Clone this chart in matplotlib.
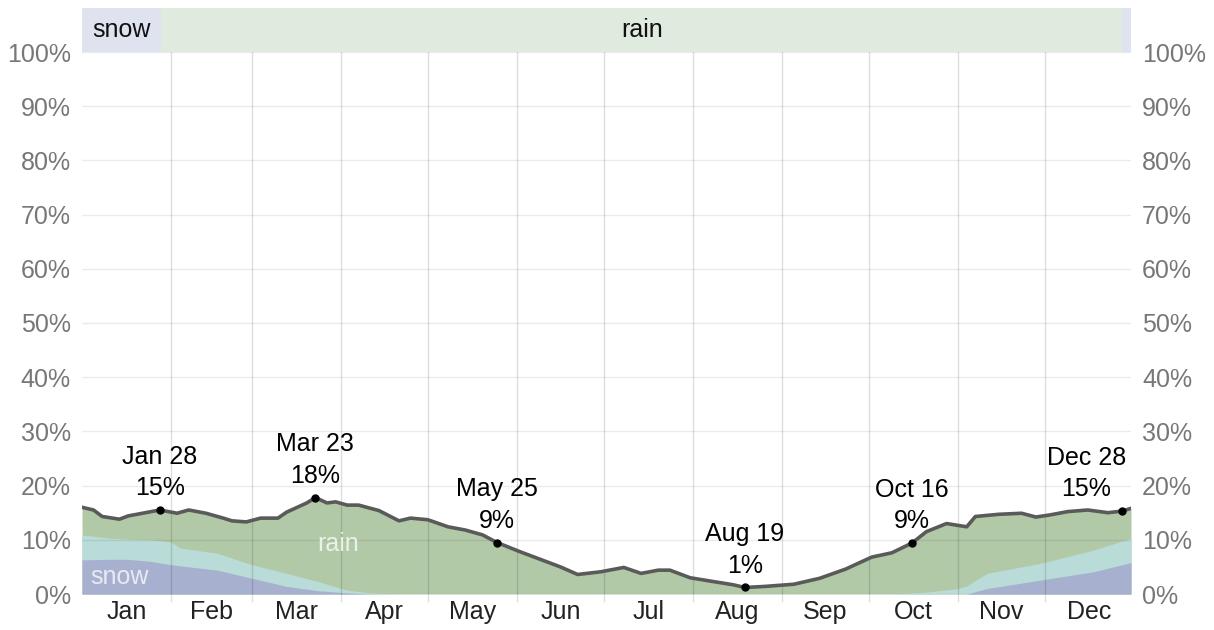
import matplotlib
matplotlib.use("Agg")
import matplotlib.pyplot as plt
import numpy as np

plt.rcParams['font.family'] = ['Liberation Sans', 'DejaVu Sans']

# ─── Data ──────────────────────────────────────────────────────────────────────
# total daily chance of precipitation (%), day of year 0..364
total_days = [0, 4, 7, 13, 16, 22, 27, 33, 37, 43, 49, 52, 57, 62, 68, 71, 78, 81,
              85, 88, 92, 96, 103, 110, 114, 120, 127, 133, 139, 144, 152, 159,
              166, 172, 180, 188, 194, 200, 204, 211, 219, 226, 230, 237, 247,
              256, 265, 274, 281, 288, 293, 300, 307, 310, 318, 326, 331, 336,
              342, 349, 356, 361, 364]
total_pct = [16.0, 15.5, 14.3, 13.8, 14.4, 15.0, 15.5, 14.9, 15.5, 14.9, 14.0, 13.5,
             13.3, 14.0, 14.0, 15.1, 16.8, 17.8, 16.8, 17.0, 16.4, 16.4, 15.4, 13.5,
             14.0, 13.7, 12.4, 11.8, 10.9, 9.5, 7.8, 6.4, 5.0, 3.6, 4.1, 4.9, 3.8,
             4.4, 4.4, 3.0, 2.3, 1.7, 1.2, 1.4, 1.8, 2.9, 4.6, 6.8, 7.6, 9.4, 11.5,
             13.0, 12.4, 14.3, 14.7, 14.9, 14.2, 14.6, 15.2, 15.5, 15.0, 15.3, 15.8]

# snow and mixed components (%), on a shared day grid
part_days = [0, 10, 16, 24, 31, 34, 47, 59, 71, 82, 92, 100, 109, 281, 294, 304,
             307, 314, 333, 351, 364]
snow_pct = [6.3, 6.4, 6.4, 6.0, 5.4, 5.2, 4.4, 2.9, 1.4, 0.6, 0.2, 0.0, 0.0, 0.0,
            0.0, 0.0, 0.0, 1.0, 2.6, 4.1, 5.8]
mixed_pct = [4.6, 3.9, 3.7, 4.0, 4.2, 3.3, 3.1, 2.5, 2.4, 1.7, 0.5, 0.2, 0.0, 0.0,
             0.4, 1.0, 1.5, 2.8, 3.1, 4.0, 4.5]

# annotated extremes
annot_days = [27, 81, 144, 230, 288, 361]
annot_text = ["Jan 28\n15%", "Mar 23\n18%", "May 25\n9%", "Aug 19\n1%",
              "Oct 16\n9%", "Dec 28\n15%"]

months = ["Jan", "Feb", "Mar", "Apr", "May", "Jun",
          "Jul", "Aug", "Sep", "Oct", "Nov", "Dec"]
month_len = [31, 28, 31, 30, 31, 30, 31, 31, 30, 31, 30, 31]

# top band: dominant precipitation type
band_start = [0, 27.5, 361]
band_end = [27.5, 361, 364]
band_type = ["snow", "rain", "snow"]

# ─── Colours ───────────────────────────────────────────────────────────────────
c_rain = '#b2c9a8'
c_mixed = '#b9dcd8'
c_snow = '#a8b0cf'
band_col = {"snow": '#dfe3ef', "rain": '#e0ebdf'}

# ─── Figure ────────────────────────────────────────────────────────────────────
W, H = 1214, 630
fig = plt.figure(figsize=(W / 100, H / 100), dpi=100)
x0, x1 = 82 / W, 1131 / W
ax = fig.add_axes([x0, 1 - 594 / H, x1 - x0, (594 - 52) / H])
band = fig.add_axes([x0, 1 - 52 / H, x1 - x0, 44 / H], sharex=ax)

td = np.array(total_days)
tp = np.array(total_pct)
pd_ = np.array(part_days)
sp = np.array(snow_pct)
mp = np.array(mixed_pct)

ax.fill_between(td, 0, tp, color=c_rain, lw=0, zorder=1)
ax.fill_between(pd_, 0, sp + mp, color=c_mixed, lw=0, zorder=2)
ax.fill_between(pd_, 0, sp, color=c_snow, lw=0, zorder=3)
ax.plot(td, tp, color='#5a5a5a', lw=2.6, zorder=5, solid_joinstyle='round')

# gridlines on top of the fills, semi transparent
for v in range(0, 101, 10):
    ax.axhline(v, color='black', alpha=0.08, lw=1, zorder=4)
starts = np.cumsum([0] + month_len[:-1])
for s in starts[1:]:
    ax.plot([s, s], [-1.3, 100], color='black', alpha=0.13, lw=1, zorder=4,
            clip_on=False)

ax.text(13, 3.2, "snow", color='white', alpha=0.75, fontsize=18, ha='center',
        va='center', zorder=6)
ax.text(89, 9.3, "rain", color='white', alpha=0.75, fontsize=18, ha='center',
        va='center', zorder=6)

# annotations
for d, t in zip(annot_days, annot_text):
    val = np.interp(d, td, tp)
    ax.plot(d, val, 'o', color='black', ms=5, zorder=7)
    dx = -26 if d > 350 else 0
    ax.annotate(t, (d, val), xytext=(dx, 7), textcoords='offset points',
                ha='center', va='bottom', fontsize=18, color='black',
                linespacing=1.4, zorder=8)

ax.set_xlim(0, 364)
ax.set_ylim(0, 100)
mids = starts + np.array(month_len) / 2
ax.set_xticks(mids)
ax.set_xticklabels(months, fontsize=18, color='#222222')
ax.set_yticks(range(0, 101, 10))
ax.set_yticklabels([f"{v}%" for v in range(0, 101, 10)], fontsize=18,
                   color='#777777')
ax.tick_params(axis='both', length=0, pad=4)
ax.tick_params(axis='y', labelright=True, pad=8)
for sp_ in ax.spines.values():
    sp_.set_visible(False)

# top band
for s, e, t in zip(band_start, band_end, band_type):
    band.axvspan(s, e, color=band_col[t], lw=0)
    if e - s > 10:
        band.text((s + e) / 2, 0.5, t, ha='center', va='center', fontsize=18,
                  color='#111111')
band.set_ylim(0, 1)
band.axis('off')

fig.savefig("out.png", dpi=100)
